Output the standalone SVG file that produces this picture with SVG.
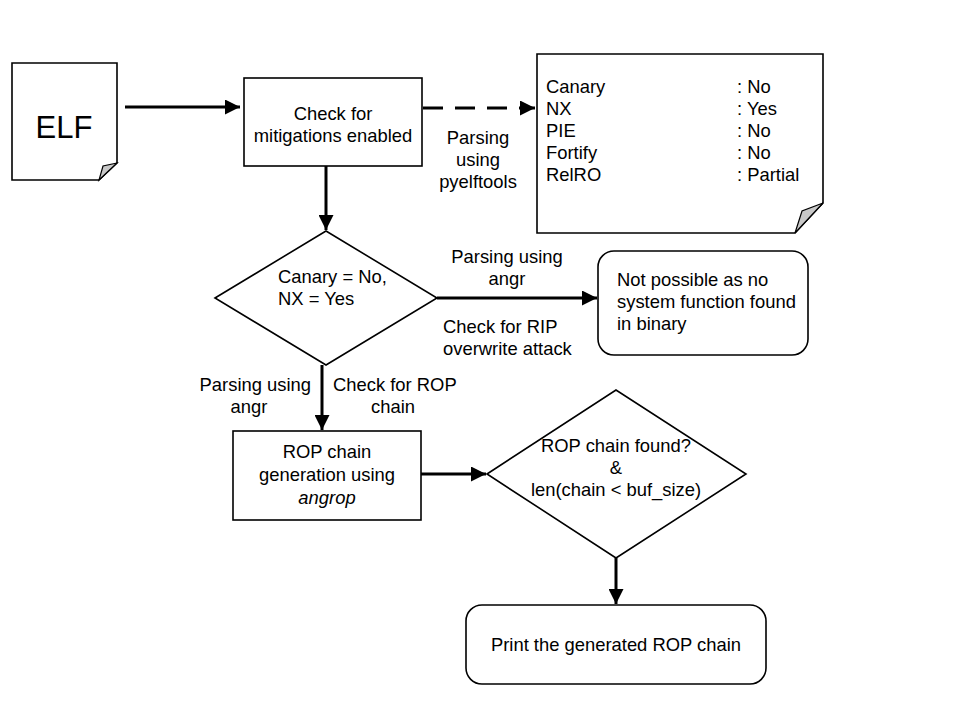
<svg xmlns="http://www.w3.org/2000/svg" width="960" height="720" viewBox="0 0 960 720">
<style>
.s{fill:#fff;stroke:#000;stroke-width:1.6}
.f{fill:#c8c8c8;stroke:#000;stroke-width:1.2}
.c{fill:none;stroke:#000;stroke-width:3}
text{font-family:"Liberation Sans",Arial,sans-serif;font-size:18.4px;fill:#000}
.m{text-anchor:middle}
.e{text-anchor:end}
</style>
<defs>
<marker id="a" viewBox="0 0 10 10" refX="10" refY="5" markerWidth="6.5" markerHeight="5" markerUnits="strokeWidth" orient="auto">
<path d="M0,0 L10,5 L0,10 Z" fill="#000"/>
</marker>
</defs>
<rect width="960" height="720" fill="#fff"/>
<g id="connectors">
<line class="c" x1="125" y1="107" x2="240" y2="107" marker-end="url(#a)"/>
<line class="c" x1="423" y1="108" x2="535" y2="108" stroke-dasharray="20,12" marker-end="url(#a)"/>
<line class="c" x1="326" y1="166" x2="326" y2="230" marker-end="url(#a)"/>
<line class="c" x1="437" y1="298" x2="597" y2="298" marker-end="url(#a)"/>
<line class="c" x1="322" y1="365" x2="322" y2="430" marker-end="url(#a)"/>
<line class="c" x1="421" y1="474" x2="486" y2="474" marker-end="url(#a)"/>
<line class="c" x1="616" y1="558" x2="616" y2="604" marker-end="url(#a)"/>
</g>
<g id="labels">
<text class="m" x="478" y="144">Parsing</text>
<text class="m" x="478" y="166">using</text>
<text class="m" x="478" y="188">pyelftools</text>
<text class="m" x="507" y="263">Parsing using</text>
<text class="m" x="507" y="285">angr</text>
<text x="443" y="333">Check for RIP</text>
<text x="443" y="355">overwrite attack</text>
<text class="e" x="311" y="391">Parsing using</text>
<text class="m" x="249" y="413">angr</text>
<text x="333" y="391">Check for ROP</text>
<text class="m" x="393" y="413">chain</text>
</g>
<g id="elf">
<path class="s" d="M12,63 H117 V163 L99,180 H12 Z"/>
<path class="f" d="M117,163 L103,166 L99,180 Z"/>
<text class="m" x="64" y="138" style="font-size:31px">ELF</text>
</g>
<g id="check">
<rect class="s" x="244" y="78" width="178" height="88"/>
<text class="m" x="333" y="120">Check for</text>
<text class="m" x="333" y="142">mitigations enabled</text>
</g>
<g id="note">
<path class="s" d="M537,54 H823 V203 L795,233 H537 Z"/>
<path class="f" d="M823,203 L802,211 L795,233 Z"/>
<text x="546" y="93">Canary</text>
<text x="546" y="115">NX</text>
<text x="546" y="137">PIE</text>
<text x="546" y="159">Fortify</text>
<text x="546" y="181">RelRO</text>
<text x="737" y="93">: No</text>
<text x="737" y="115">: Yes</text>
<text x="737" y="137">: No</text>
<text x="737" y="159">: No</text>
<text x="737" y="181">: Partial</text>
</g>
<g id="decision1">
<path class="s" d="M215,298 L326,231 L437,298 L326,365 Z"/>
<text x="278" y="283">Canary = No,</text>
<text x="278" y="305">NX = Yes</text>
</g>
<g id="notpossible">
<rect class="s" x="598" y="251" width="210" height="104" rx="16"/>
<text x="617" y="286">Not possible as no</text>
<text x="617" y="308">system function found</text>
<text x="617" y="330">in binary</text>
</g>
<g id="ropgen">
<rect class="s" x="233" y="431" width="188" height="89"/>
<text class="m" x="327" y="458">ROP chain</text>
<text class="m" x="327" y="481">generation using</text>
<text class="m" x="327" y="504" font-style="italic">angrop</text>
</g>
<g id="decision2">
<path class="s" d="M487,474 L616,390 L746,474 L616,558 Z"/>
<text class="m" x="616" y="452">ROP chain found?</text>
<text class="m" x="616" y="474">&amp;</text>
<text class="m" x="616" y="496">len(chain &lt; buf_size)</text>
</g>
<g id="print">
<rect class="s" x="466" y="605" width="300" height="79" rx="16"/>
<text class="m" x="616" y="651">Print the generated ROP chain</text>
</g>
</svg>
